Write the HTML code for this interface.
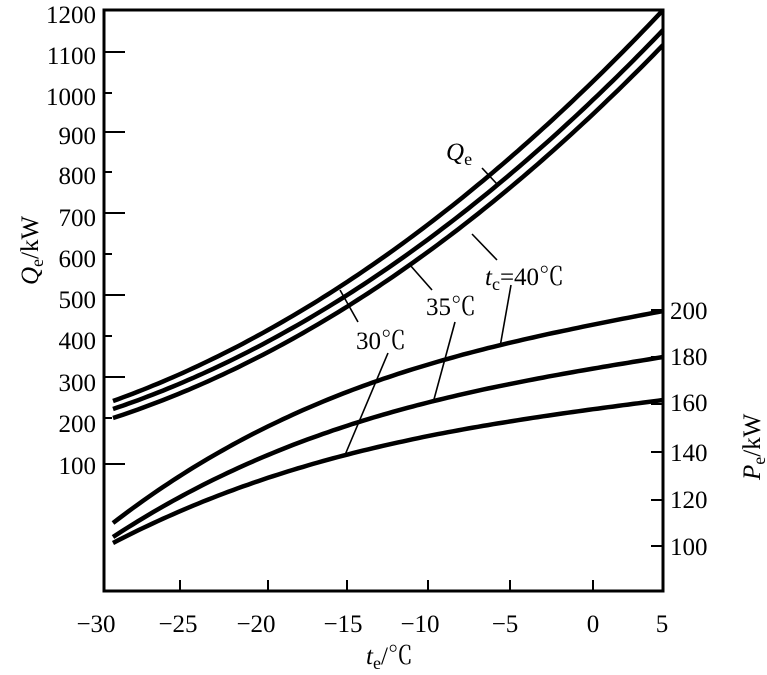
<!DOCTYPE html>
<html><head><meta charset="utf-8"><style>
html,body{margin:0;padding:0;background:#fff;}
svg text{font-family:"Liberation Serif","Noto Serif CJK SC",serif;font-size:25px;fill:#000;}
</style></head><body>
<svg id="s" width="767" height="670" viewBox="0 0 767 670" xmlns="http://www.w3.org/2000/svg">
<g stroke="#000" stroke-width="3" fill="none">
<path d="M104 10 H663 V591 H104 Z"/>
</g>
<g stroke="#000" stroke-width="2" id="ticks"></g>
<g id="curves" stroke="#000" stroke-width="4.5" fill="none" stroke-linecap="butt"></g>
<g stroke="#000" stroke-width="1.6">
<line x1="482" y1="168" x2="497" y2="184"/>
<line x1="472" y1="234" x2="497" y2="260"/>
<line x1="410" y1="265" x2="432" y2="290"/>
<line x1="340" y1="290" x2="358" y2="322"/>
<line x1="500" y1="347" x2="511" y2="285"/>
<line x1="433" y1="403" x2="455" y2="322"/>
<line x1="345" y1="455" x2="388" y2="353"/>
</g>
<g text-anchor="end">
<text x="96" y="23">1200</text><text x="96" y="64">1100</text><text x="96" y="105">1000</text>
<text x="96" y="144">900</text><text x="96" y="184">800</text><text x="96" y="226">700</text>
<text x="96" y="267">600</text><text x="96" y="308">500</text><text x="96" y="349">400</text>
<text x="96" y="391">300</text><text x="96" y="432">200</text><text x="96" y="474">100</text>
</g>
<g text-anchor="start">
<text x="670" y="319">200</text><text x="670" y="365">180</text><text x="670" y="411">160</text>
<text x="670" y="461">140</text><text x="670" y="508">120</text><text x="670" y="555">100</text>
</g>
<g text-anchor="middle">
<text x="96" y="632">−30</text><text x="178" y="632">−25</text><text x="256" y="632">−20</text>
<text x="343" y="632">−15</text><text x="420" y="632">−10</text><text x="505" y="632">−5</text>
<text x="593" y="632">0</text><text x="662" y="632">5</text>
</g>
<text x="446" y="160" font-style="italic">Q<tspan font-size="18" font-style="normal" dy="5">e</tspan></text>
<text x="485" y="285"><tspan font-style="italic">t</tspan><tspan font-size="18" dy="5">c</tspan><tspan dy="-5">=40℃</tspan></text>
<text x="426" y="315">35℃</text>
<text x="356" y="349">30℃</text>
<text x="366" y="664"><tspan font-style="italic">t</tspan><tspan font-size="18" dy="5">e</tspan><tspan dy="-5">/℃</tspan></text>
<text transform="translate(38,285) rotate(-90)"><tspan font-style="italic">Q</tspan><tspan font-size="18" dy="5">e</tspan><tspan dy="-5">/kW</tspan></text>
<text transform="translate(760,480) rotate(-90)"><tspan font-style="italic">P</tspan><tspan font-size="18" dy="5">e</tspan><tspan dy="-5">/kW</tspan></text>
</svg>
<script>
var ns="http://www.w3.org/2000/svg";
var t=document.getElementById("ticks"),c=document.getElementById("curves");
function L(x1,y1,x2,y2){var l=document.createElementNS(ns,"line");l.setAttribute("x1",x1);l.setAttribute("y1",y1);l.setAttribute("x2",x2);l.setAttribute("y2",y2);t.appendChild(l);}
[52,93,132,172,213,254,295,336,377,418,464].forEach(function(y,i){L(104,y,i%2==0?125:112,y);});
[310,357,404,452,500,546].forEach(function(y){L(663,y,651,y);});
[180,268,347,428,510,593].forEach(function(x){L(x,591,x,580);});
function P(d){var p=document.createElementNS(ns,"path");p.setAttribute("d",d);c.appendChild(p);}
var so=[0,8,17],eo=[0,20,35];
for(var k=0;k<3;k++){var d="";for(var x=113;x<=663;x+=5){var u=x-113,s=u/550;var y=401-0.3587*u-0.00064*u*u+so[k]+(eo[k]-so[k])*s;d+=(x==113?"M":"L")+x+" "+y.toFixed(1);}P(d);}
var ps=[[523,311],[537,357],[543,400]];
ps.forEach(function(q){var d="";for(var x=113;x<=663;x+=5){var s=(x-113)/550;var f=0.5*(1-s)+0.5*Math.pow(1-s,3);var y=q[1]+(q[0]-q[1])*f;d+=(x==113?"M":"L")+x+" "+y.toFixed(1);}P(d);});
</script>
</body></html>
